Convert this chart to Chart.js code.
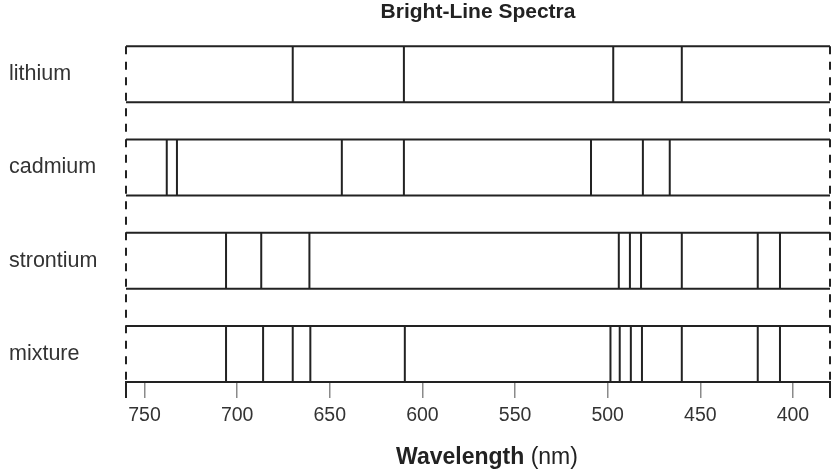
<!DOCTYPE html>
<html><head><meta charset="utf-8">
<script src="https://cdn.jsdelivr.net/npm/chart.js@4"></script>
<style>html,body{margin:0;padding:0;background:#fff;}</style>
</head><body>
<canvas id="c" width="839" height="469"></canvas>
<script>
const categories = ['lithium', 'cadmium', 'strontium', 'mixture'];
const lithium = [670, 610, 497, 460];
const cadmium = [738, 732.5, 643.5, 610, 509, 481, 466.5];
const strontium = [706, 687, 661, 494, 488, 482, 460, 419, 407];
const mixture = [706, 686, 670, 660.5, 609.5, 498.5, 493.5, 487.5, 481.5, 460, 419, 407];
const wavelengthRange = [380, 760];
const tickValues = [400, 450, 500, 550, 600, 650, 700, 750];
const chartTitle = 'Bright-Line Spectra';
const axisTitleBold = 'Wavelength';
const axisTitleNormal = ' (nm)';

const spectra = [lithium, cadmium, strontium, mixture];
const HALF = 0.3;
const INK = '#222';
const FONT = '"Liberation Sans", Arial, Helvetica, sans-serif';

function bandEdges() {
  const pts = [];
  categories.forEach((c, i) => {
    [i - HALF, i + HALF].forEach(y => {
      pts.push({x: wavelengthRange[1], y: y});
      pts.push({x: wavelengthRange[0], y: y});
      pts.push({x: wavelengthRange[0], y: null});
    });
  });
  return pts;
}
function sideEdges() {
  const pts = [];
  wavelengthRange.forEach(w => {
    pts.push({x: w, y: -HALF});
    pts.push({x: w, y: categories.length - 1 + HALF});
    pts.push({x: w, y: null});
  });
  return pts;
}
function linePoints(arr, i) {
  const pts = [];
  arr.forEach(w => {
    pts.push({x: w, y: i - HALF});
    pts.push({x: w, y: i + HALF});
    pts.push({x: w, y: null});
  });
  return pts;
}

const base = {showLine: true, pointRadius: 0, borderColor: INK, borderWidth: 2, spanGaps: false, clip: false, fill: false};
const datasets = [
  Object.assign({}, base, {label: 'bands', data: bandEdges()}),
  Object.assign({}, base, {label: 'edges', data: sideEdges(), borderDash: [8, 7.5]})
];
spectra.forEach((arr, i) => datasets.push(Object.assign({}, base, {label: categories[i], data: linePoints(arr, i)})));

const xTitlePlugin = {
  id: 'xTitle',
  afterDraw(chart) {
    const {ctx, chartArea} = chart;
    ctx.save();
    ctx.fillStyle = '#222';
    ctx.textBaseline = 'alphabetic';
    ctx.textAlign = 'left';
    const bold = 'bold 23px ' + FONT, norm = '23px ' + FONT;
    ctx.font = bold; const w1 = ctx.measureText(axisTitleBold).width;
    ctx.font = norm; const w2 = ctx.measureText(axisTitleNormal).width;
    const cx = (chartArea.left + chartArea.right) / 2 + 9;
    const y = chartArea.bottom + 82;
    let x = cx - (w1 + w2) / 2;
    ctx.font = bold; ctx.fillText(axisTitleBold, x, y);
    ctx.font = norm; ctx.fillText(axisTitleNormal, x + w1, y);
    ctx.restore();
  }
};

new Chart(document.getElementById('c'), {
  type: 'scatter',
  data: {datasets: datasets},
  options: {
    responsive: false,
    animation: false,
    layout: {padding: {left: 9, right: 9, top: 0, bottom: 0}},
    plugins: {
      legend: {display: false},
      tooltip: {enabled: false},
      title: {display: true, text: chartTitle, fullSize: false, color: '#222',
        font: {family: FONT, size: 21, weight: 'bold'}, padding: {top: 0, bottom: 21}}
    },
    scales: {
      x: {
        type: 'linear', reverse: true, min: wavelengthRange[0], max: wavelengthRange[1],
        afterBuildTicks: s => { s.ticks = [wavelengthRange[0]].concat(tickValues, [wavelengthRange[1]]).map(v => ({value: v})); },
        afterFit: s => { s.height = 87; },
        ticks: {autoSkip: false, maxRotation: 0, padding: 6, color: '#333', font: {family: FONT, size: 19.5},
          callback: v => (tickValues.includes(v) ? String(v) : '')},
        grid: {drawOnChartArea: false, drawTicks: true, tickLength: 16,
          color: c => (c.tick && wavelengthRange.includes(c.tick.value)) ? INK : '#8a8a8a',
          lineWidth: c => (c.tick && wavelengthRange.includes(c.tick.value)) ? 2 : 1.5},
        border: {display: true, color: INK, width: 2}
      },
      y: {
        type: 'linear', reverse: true, min: -HALF, max: categories.length - 1 + HALF,
        afterBuildTicks: s => { s.ticks = categories.map((c, i) => ({value: i})); },
        afterFit: s => { s.width = 117; },
        ticks: {crossAlign: 'far', color: '#333', font: {family: FONT, size: 21.5},
          callback: v => categories[v] || ''},
        grid: {display: false},
        border: {display: false}
      }
    }
  },
  plugins: [xTitlePlugin]
});
</script>
</body></html>
